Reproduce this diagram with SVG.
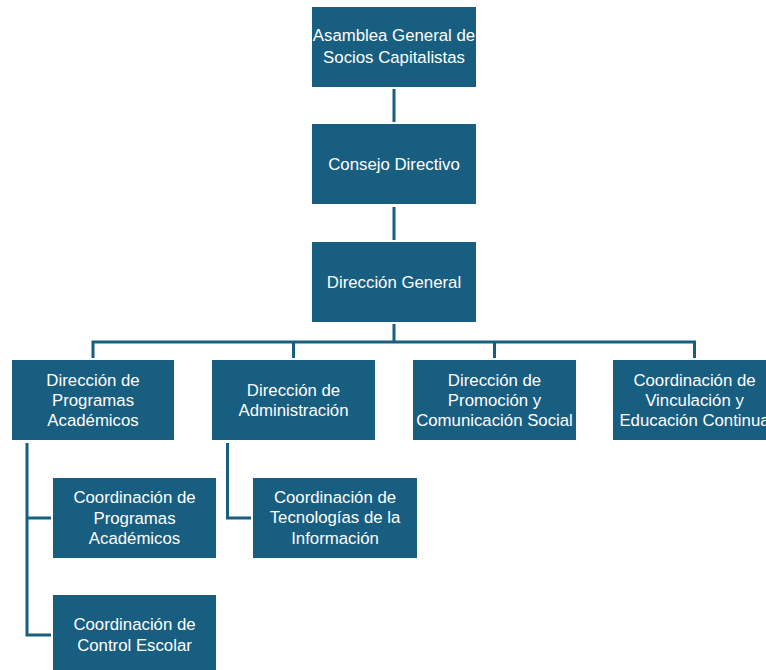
<svg xmlns="http://www.w3.org/2000/svg" width="766" height="670" viewBox="0 0 766 670">
<style>
.box{fill:#185E80;}
.t{font-family:"Liberation Sans",Arial,sans-serif;font-size:16.8px;fill:#FFFFFF;text-anchor:middle;}
.c{fill:none;stroke:#185E80;stroke-width:3;}
</style>
<rect width="766" height="670" fill="#FFFFFF"/>
<g id="connectors">
<line class="c" x1="394" y1="89" x2="394" y2="122"/>
<line class="c" x1="394" y1="207" x2="394" y2="240"/>
<polyline class="c" points="394,324 394,342"/>
<polyline class="c" points="93,358 93,342 694.5,342 694.5,358"/>
<line class="c" x1="293.5" y1="342" x2="293.5" y2="358"/>
<line class="c" x1="494.5" y1="342" x2="494.5" y2="358"/>
<polyline class="c" points="27,443 27,635 51,635"/>
<line class="c" x1="27" y1="518" x2="51" y2="518"/>
<polyline class="c" points="227.5,443 227.5,518 251,518"/>
</g>
<g id="n1"><rect class="box" x="312" y="7" width="164" height="80"/>
<text class="t" x="394" y="41">Asamblea General de</text><text class="t" x="394" y="63">Socios Capitalistas</text></g>
<g id="n2"><rect class="box" x="312" y="124" width="164" height="80"/>
<text class="t" x="394" y="170">Consejo Directivo</text></g>
<g id="n3"><rect class="box" x="312" y="242" width="164" height="80"/>
<text class="t" x="394" y="288">Dirección General</text></g>
<g id="n4"><rect class="box" x="12" y="360" width="162" height="80"/>
<text class="t" x="93" y="386">Dirección de</text><text class="t" x="93" y="406">Programas</text><text class="t" x="93" y="426">Académicos</text></g>
<g id="n5"><rect class="box" x="212" y="360" width="163" height="80"/>
<text class="t" x="293.5" y="396">Dirección de</text><text class="t" x="293.5" y="416">Administración</text></g>
<g id="n6"><rect class="box" x="413" y="360" width="163" height="80"/>
<text class="t" x="494.5" y="386">Dirección de</text><text class="t" x="494.5" y="406">Promoción y</text><text class="t" x="494.5" y="426">Comunicación Social</text></g>
<g id="n7"><rect class="box" x="613" y="360" width="163" height="80"/>
<text class="t" x="694.5" y="386">Coordinación de</text><text class="t" x="694.5" y="406">Vinculación y</text><text class="t" x="694.5" y="426">Educación Continua</text></g>
<g id="n8"><rect class="box" x="53" y="478" width="163" height="80"/>
<text class="t" x="134.5" y="502.5">Coordinación de</text><text class="t" x="134.5" y="523.5">Programas</text><text class="t" x="134.5" y="544">Académicos</text></g>
<g id="n9"><rect class="box" x="253" y="478" width="164" height="80"/>
<text class="t" x="335" y="502.5">Coordinación de</text><text class="t" x="335" y="523">Tecnologías de la</text><text class="t" x="335" y="544">Información</text></g>
<g id="n10"><rect class="box" x="53" y="595" width="163" height="80"/>
<text class="t" x="134.5" y="630">Coordinación de</text><text class="t" x="134.5" y="651">Control Escolar</text></g>
</svg>
